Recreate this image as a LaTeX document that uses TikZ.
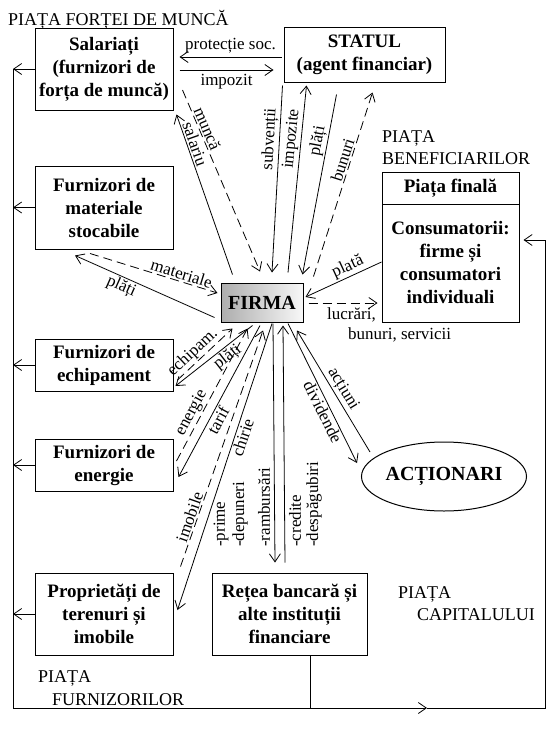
\documentclass[tikz,border=0pt]{standalone}
\usepackage{fontspec}
\setmainfont{Liberation Serif}
\usetikzlibrary{arrows.meta,shapes.geometric}
\begin{document}
\begin{tikzpicture}[x=1pt,y=-1pt,
  box/.style={draw, line width=1pt, align=center, inner sep=0pt, font=\fontsize{19}{23}\selectfont\bfseries},
  lab/.style={font=\fontsize{17}{19}\selectfont, inner sep=1.5pt},
  vlab/.style={font=\fontsize{17}{19}\selectfont, inner sep=0pt, rotate=90, anchor=west},
  mkt/.style={font=\fontsize{18}{21}\selectfont, inner sep=0pt, anchor=base west},
  ln/.style={line width=0.8pt},
  arr/.style={ln, -{Straight Barb[length=8pt,width=11pt]}},
  dsh/.style={dash pattern=on 9pt off 5pt}]
\useasboundingbox (0,0) rectangle (553,739);
\fill[white] (0,0) rectangle (553,739);

% market labels
\node[mkt] (m1) at (8,25) {PIAȚA FORȚEI DE MUNCĂ};
\node[mkt] (m2a) at (382,142) {PIAȚA};
\node[mkt] (m2b) at (382,164) {BENEFICIARILOR};
\node[mkt] (m3a) at (398,598) {PIAȚA};
\node[mkt] (m3b) at (417,620) {CAPITALULUI};
\node[mkt] (m4a) at (38,682) {PIAȚA};
\node[mkt] (m4b) at (52,705) {FURNIZORILOR};

% boxes
\node[box, minimum width=138pt, minimum height=82pt] (sal) at (104,69) {Salariați\\(furnizori de\\forța de muncă)};
\node[box, minimum width=161pt, minimum height=55pt] (stat) at (364.5,54.5) {STATUL\\(agent financiar)};
\node[box, minimum width=138pt, minimum height=83pt] (mat) at (104,207.5) {Furnizori de\\materiale\\stocabile};
\node[box, minimum width=137pt, minimum height=32pt] (fintop) at (450.5,188) {Piața finală};
\node[box, minimum width=137pt, minimum height=118pt] (finbot) at (450.5,263) {Consumatorii:\\firme și\\consumatori\\individuali};
\node[box, minimum width=82pt, minimum height=39pt, left color=black!32, right color=black!3, font=\fontsize{20}{24}\selectfont\bfseries] (firma) at (262,302.5) {FIRMA};
\node[box, minimum width=138pt, minimum height=52pt] (ech) at (104,365) {Furnizori de\\echipament};
\node[box, minimum width=138pt, minimum height=52pt] (ene) at (104,465) {Furnizori de\\energie};
\node[box, minimum width=138pt, minimum height=82pt] (prop) at (104,614) {Proprietăți de\\terenuri și\\imobile};
\node[box, minimum width=155pt, minimum height=82pt] (bank) at (289.5,614) {Rețea bancară și\\alte instituții\\financiare};
\node[draw, ellipse, line width=1pt, minimum width=156pt, minimum height=69pt, inner sep=0pt, font=\fontsize{20}{24}\selectfont\bfseries] (act) at (444,476.5) {ACȚIONARI};

% Salariati <-> Statul
\draw[arr] ([shift={(-2,2.5)}]stat.west) -- ([shift={(6,-12)}]sal.east) node[lab,midway,above,inner sep=3pt]{protecție soc.};
\draw[arr] ([shift={(6,1)}]sal.east) -- ([shift={(-10,15.5)}]stat.west) node[lab,midway,below,inner sep=4pt]{impozit};

% Firma <-> Salariati
\draw[arr] ([shift={(12,-8)}]firma.north west) -- ([shift={(3,4)}]sal.south east) node[lab,sloped,above,pos=0.80]{salariu};
\draw[arr,dsh] ([shift={(9,21)}]sal.east) -- ([shift={(-2,-11)}]firma.north) node[lab,sloped,above,pos=0.23]{muncă};

% Firma <-> Statul
\draw[arr] ([shift={(-1,3)}]stat.south west) -- ([shift={(10,-10)}]firma.north) node[lab,sloped,above,pos=0.29]{subvenții};
\draw[arr] ([shift={(26,-10)}]firma.north) -- ([shift={(23,3)}]stat.south west) node[lab,sloped,above,pos=0.71]{impozite};
\draw[arr] ([shift={(53,12)}]stat.south west) -- ([shift={(-1,-8)}]firma.north east) node[lab,sloped,above,pos=0.27]{plăți};
\draw[arr,dsh] ([shift={(10,-6)}]firma.north east) -- ([shift={(89,10)}]stat.south west) node[lab,sloped,above,pos=0.62]{bunuri};

% Firma <-> Piata finala
\draw[arr] ([shift={(0,-1)}]finbot.west) -- ([shift={(2,-5.5)}]firma.east) node[lab,sloped,above,pos=0.39]{plată};
\draw[arr,dsh] ([shift={(5,0.5)}]firma.east) -- ([shift={(-4,40)}]finbot.west);
\node[lab, anchor=base west, inner sep=0pt] (l1) at (327,319) {lucrări,};
\node[lab, anchor=base west, inner sep=0pt] (l2) at (348,339) {bunuri, servicii};

% Firma <-> materiale
\draw[arr,dsh] ([shift={(-14,4)}]mat.south) -- ([shift={(-3,-9.5)}]firma.west) node[lab,sloped,above,pos=0.70]{materiale};
\draw[arr] ([shift={(-6,-5)}]firma.south west) -- ([shift={(-29,6)}]mat.south) node[lab,sloped,below,pos=0.64]{plăți};

% Firma <-> echipament
\draw[arr,dsh] ([shift={(4,15)}]ech.east) -- ([shift={(12,6)}]firma.south west) node[lab,sloped,above,pos=0.40]{echipam.};
\draw[arr] ([shift={(32,3)}]firma.south west) -- ([shift={(2,21)}]ech.east) node[lab,sloped,below,pos=0.40]{plăți};

% Firma <-> energie
\draw[arr,dsh] ([shift={(3,-4)}]ene.east) -- ([shift={(27,6)}]firma.south west) node[lab,sloped,above,pos=0.33]{energie};
\draw[arr] ([shift={(-2,3)}]firma.south) -- ([shift={(5,12)}]ene.east) node[lab,sloped,below,pos=0.6]{tarif};

% Firma <-> proprietati
\draw[arr,dsh] ([shift={(7,-6)}]prop.north east) -- ([shift={(1,8)}]firma.south) node[lab,sloped,above,pos=0.2]{imobile};
\draw[arr] ([shift={(10,1)}]firma.south) -- ([shift={(4,-4)}]prop.east) node[lab,sloped,below,pos=0.39]{chirie};

% Firma <-> banca
\draw[arr] ([shift={(11,1)}]firma.south) -- ([shift={(-14.5,-10)}]bank.north);
\draw[arr] ([shift={(-4.5,-10)}]bank.north) -- ([shift={(21,3)}]firma.south);
\node[vlab] (b1) at (221,547) {-prime};
\node[vlab] (b2) at (240,547) {-depuneri};
\node[vlab] (b3) at (264,547) {-rambursări};
\node[vlab] (b4) at (295,547) {-credite};
\node[vlab] (b5) at (314,547) {-despăgubiri};

% Firma <-> actionari
\draw[arr] ([shift={(26,1)}]firma.south) -- ([shift={(-4,-13.5)}]act.west) node[lab,sloped,below,pos=0.61]{dividende};
\draw[arr] ([shift={(9,-24.5)}]act.west) -- ([shift={(35,8)}]firma.south) node[lab,sloped,above,pos=0.48]{acțiuni};

% outer loop
\coordinate (BL) at (13,708);
\coordinate (BR) at (545,708);
\coordinate (TR) at (545,240);
\coordinate (MID) at (427,708);
\draw[ln] (sal.west -| BL) -- (BL);
\draw[arr] (sal.west) -- (sal.west -| BL);
\draw[arr] (mat.west) -- (mat.west -| BL);
\draw[arr] (ech.west) -- (ech.west -| BL);
\draw[arr] (ene.west) -- (ene.west -| BL);
\draw[arr] (prop.west) -- (prop.west -| BL);
\draw[ln] ([xshift=20.5pt]bank.south) -- ([xshift=20.5pt]bank.south |- BL);
\draw[arr] (BL) -- (MID);
\draw[arr, shorten >=4pt] (MID) -- (BR) -- (TR) -- (finbot.east |- TR);
\end{tikzpicture}
\end{document}
